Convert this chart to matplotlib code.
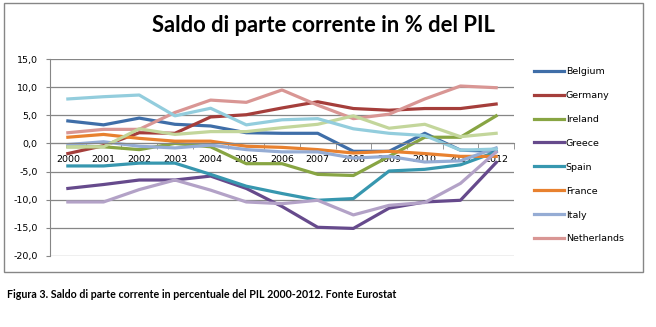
import matplotlib
matplotlib.use("Agg")
import matplotlib.pyplot as plt
from matplotlib.patches import Rectangle

# dati (Eurostat, saldo di parte corrente in % del PIL)
anni = ['2000', '2001', '2002', '2003', '2004', '2005', '2006',
        '2007', '2008', '2009', '2010', '2011', '2012']

belgium = [4.0, 3.3, 4.5, 3.4, 3.1, 1.9, 1.8, 1.8, -1.4, -1.4, 1.8, -1.2, -1.4]
germany = [-1.8, -0.4, 1.9, 1.8, 4.7, 5.1, 6.3, 7.4, 6.2, 5.9, 6.2, 6.2, 7.0]
ireland = [-0.6, -0.6, -1.1, 0.0, -0.6, -3.6, -3.6, -5.5, -5.7, -2.3, 1.1, 1.1, 4.9]
greece = [-8.0, -7.3, -6.5, -6.5, -5.8, -8.0, -11.2, -14.9, -15.1, -11.5, -10.4, -10.1, -3.4]
spain = [-4.0, -4.0, -3.5, -3.5, -5.5, -7.6, -8.9, -10.1, -9.8, -4.9, -4.6, -3.8, -1.5]
france = [1.1, 1.6, 0.9, 0.4, 0.4, -0.5, -0.7, -1.1, -1.7, -1.4, -1.8, -2.3, -2.3]
italy = [-0.2, 0.3, -0.5, -0.8, -0.3, -1.1, -1.5, -1.5, -2.6, -2.3, -3.3, -3.1, -0.8]
netherlands = [1.9, 2.5, 2.5, 5.5, 7.7, 7.3, 9.5, 6.8, 4.4, 5.2, 7.9, 10.2, 9.9]
austria = [-0.6, -0.6, 2.6, 1.6, 2.1, 2.1, 2.8, 3.4, 4.9, 2.7, 3.4, 1.2, 1.8]
portugal = [-10.4, -10.4, -8.2, -6.5, -8.3, -10.4, -10.7, -10.1, -12.7, -11.0, -10.5, -7.1, -1.5]
finland = [7.9, 8.3, 8.6, 4.9, 6.25, 3.3, 4.2, 4.4, 2.6, 1.8, 1.4, -1.2, -1.0]

paesi = ['Belgium', 'Germany', 'Ireland', 'Greece', 'Spain', 'France',
         'Italy', 'Netherlands', 'Austria', 'Portugal', 'Finland']
serie = [belgium, germany, ireland, greece, spain, france,
         italy, netherlands, austria, portugal, finland]
colori = ['#3F6EA8', '#A53E3B', '#88A543', '#664A8C', '#3797AF', '#E8812F',
          '#95ACD4', '#D99694', '#C3D69B', '#B3A2C7', '#93CDDD']

y_ticks = [-20, -15, -10, -5, 0, 5, 10, 15]
y_labels = ['-20,0', '-15,0', '-10,0', '-5,0', '0,0', '5,0', '10,0', '15,0']

fig = plt.figure(figsize=(6.56, 3.27), dpi=100)
ax = fig.add_axes([50/656, 71/327, 464/656, 197/327])

x = list(range(len(anni)))
linee = []
for nome, vals, col in zip(paesi, serie, colori):
    l, = ax.plot(x, vals, color=col, lw=2.3, solid_joinstyle='round', label=nome)
    linee.append(l)

ax.set_xlim(-0.5, len(anni) - 0.5)
ax.set_ylim(-20, 15)
ax.set_yticks(y_ticks)
ax.set_yticklabels(y_labels, fontsize=6.8)
ax.yaxis.grid(True, color='#868686', lw=0.9)
ax.set_axisbelow(True)

# asse delle categorie sullo zero
ax.spines['bottom'].set_position(('data', 0))
ax.spines['bottom'].set_color('#868686')
ax.spines['left'].set_color('#868686')
ax.spines['top'].set_visible(False)
ax.spines['right'].set_visible(False)
ax.set_xticks(x)
ax.set_xticklabels(anni, fontsize=6.8)
ax.set_xticks([i - 0.5 for i in range(len(anni) + 1)], minor=True)
ax.tick_params(axis='x', which='major', length=0, pad=8)
ax.tick_params(axis='x', which='minor', length=4, color='#868686')
ax.tick_params(axis='y', length=3, color='#868686', pad=6)

# legenda: solo le prime 8 serie (come in Excel)
fig.legend(linee[:8], paesi[:8], loc='upper left',
           bbox_to_anchor=(534/656, 1 - 67/327), frameon=False,
           fontsize=6.8, handlelength=3.2, handletextpad=0.15,
           labelspacing=1.58, borderpad=0, borderaxespad=0)

fig.text(323/656, 1 - 26/327, 'Saldo di parte corrente in % del PIL',
         ha='center', va='center', fontsize=15.8, fontweight='bold', family='Lato')
fig.text(7/656, 1 - 294/327,
         'Figura 3. Saldo di parte corrente in percentuale del PIL 2000-2012. Fonte Eurostat',
         ha='left', va='center', fontsize=7.7, fontweight='bold', family='Lato')

fig.patches.append(Rectangle((4/656, 55/327), 639/656, 269/327,
                             transform=fig.transFigure, fill=False,
                             edgecolor='#868686', lw=1))

fig.savefig('out.png', dpi=100)
